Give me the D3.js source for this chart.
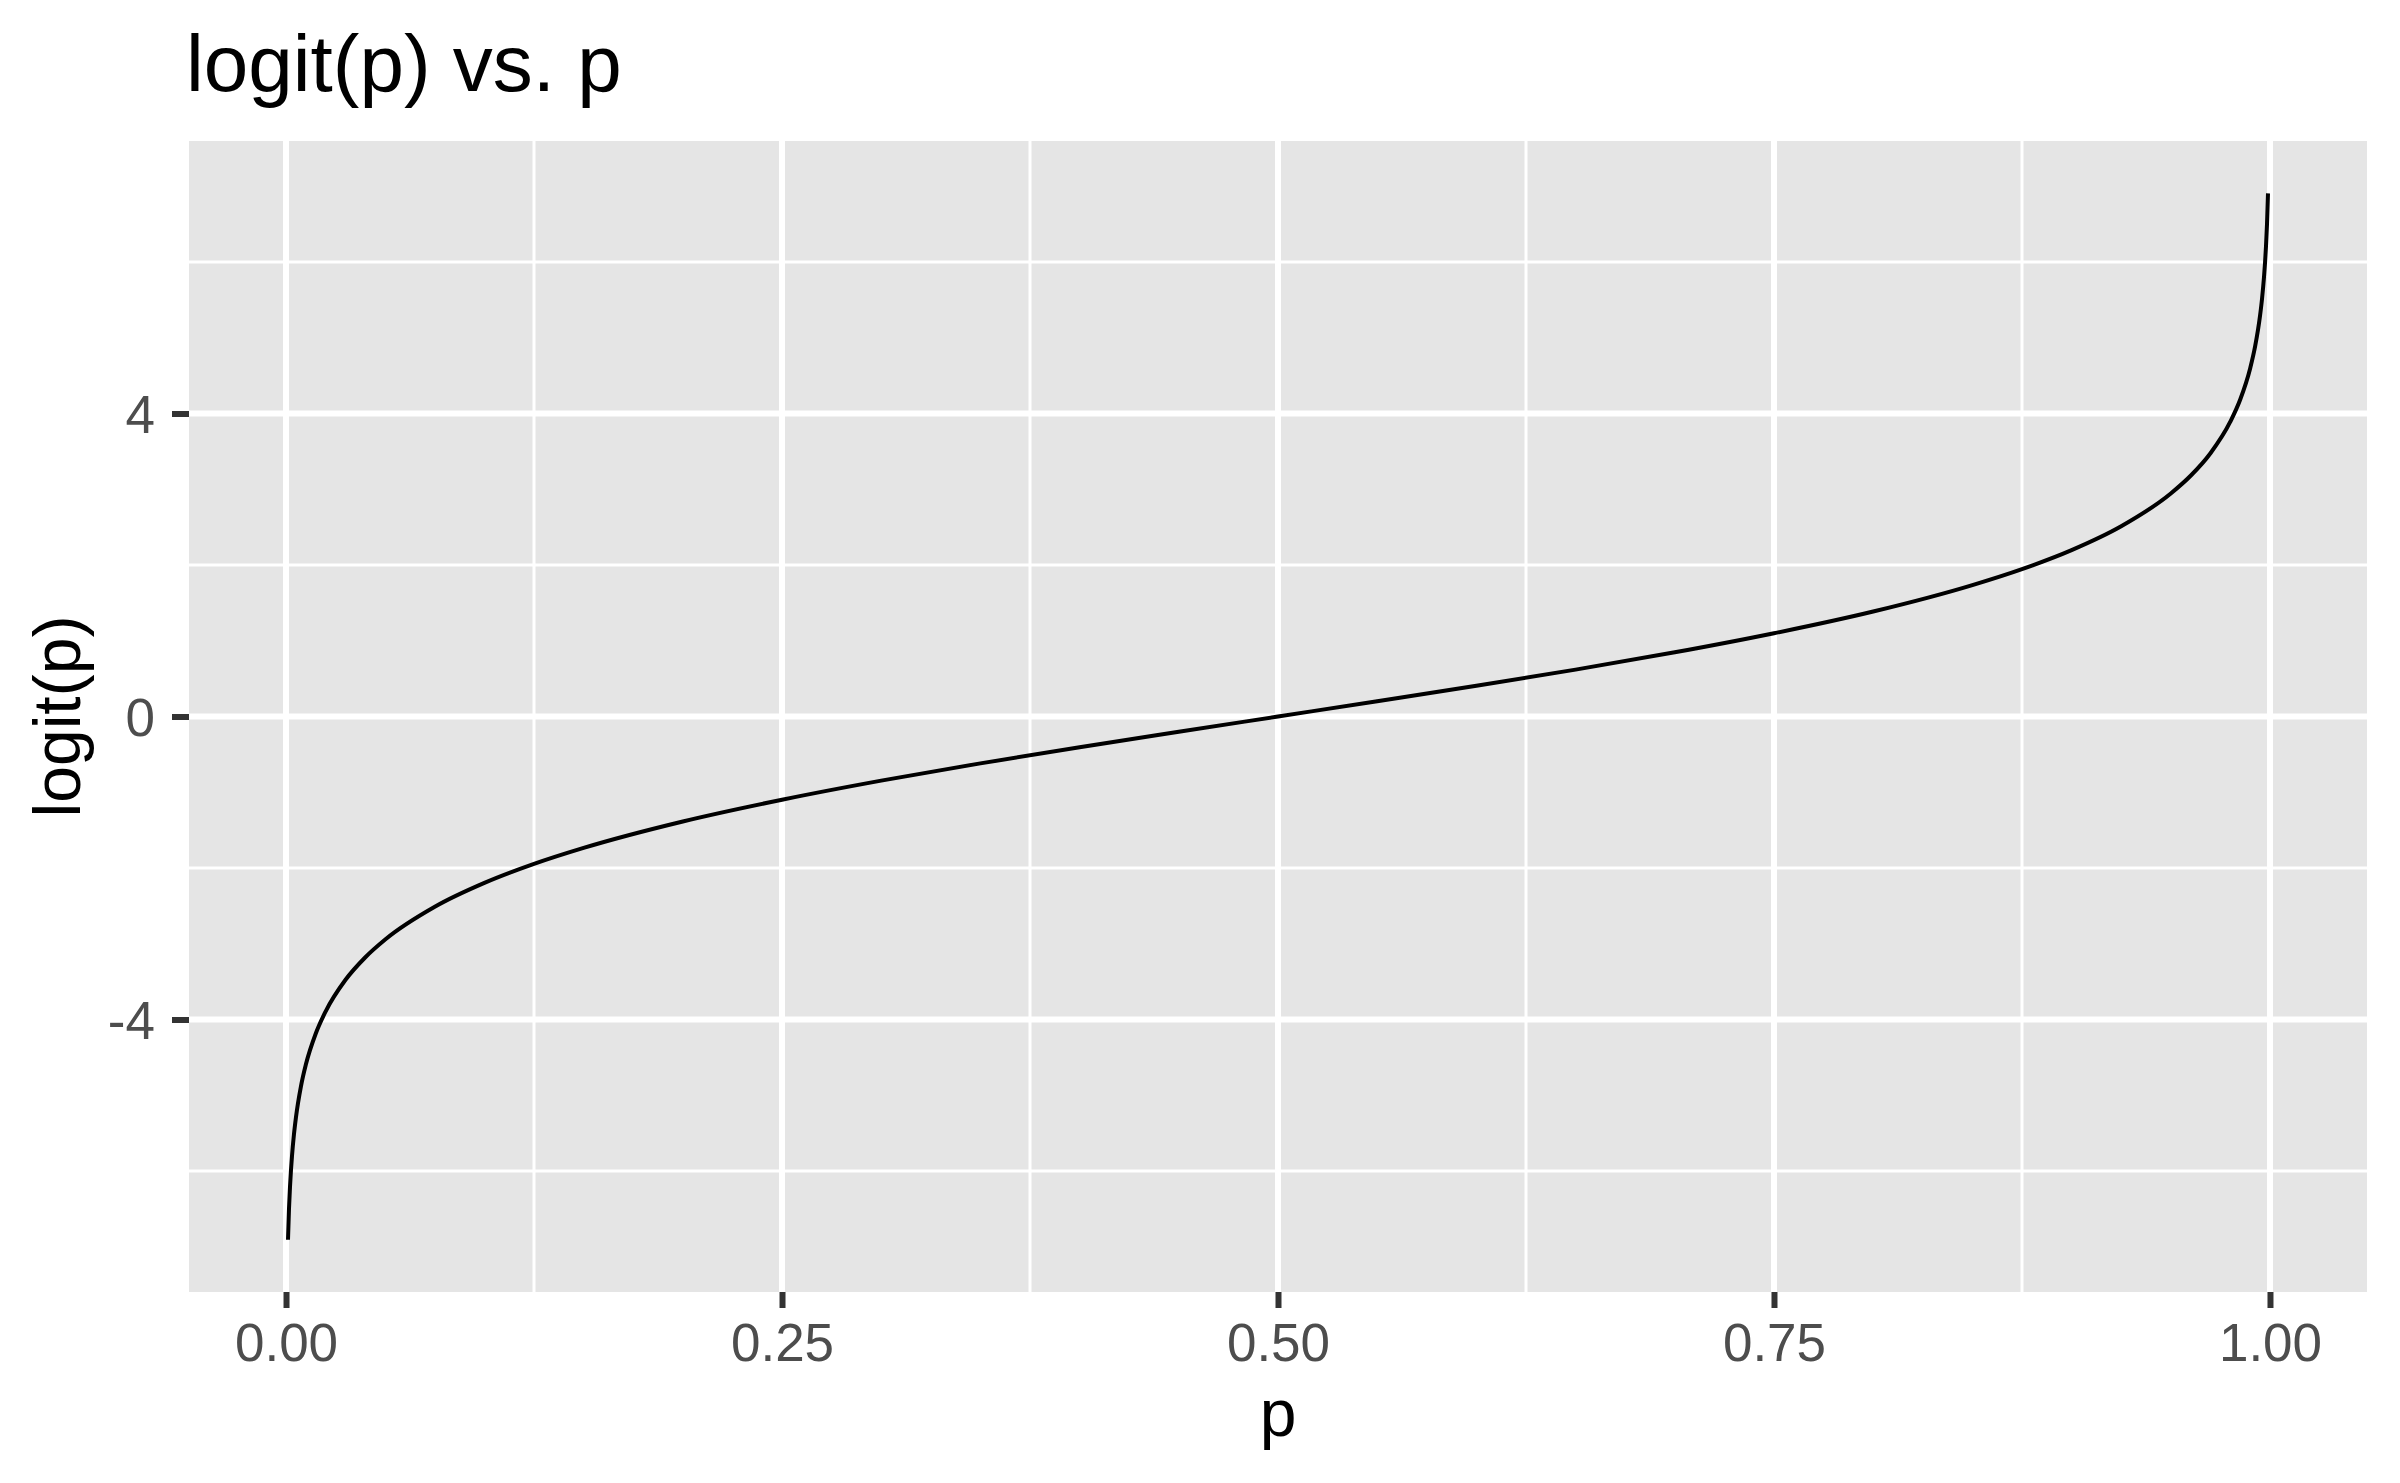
<!DOCTYPE html>
<html>
<head>
<meta charset="utf-8">
<script src="https://cdn.jsdelivr.net/npm/d3@7"></script>
<style>
  html, body { margin: 0; padding: 0; background: #ffffff; }
  svg { display: block; }
</style>
</head>
<body>
<script>
// ---- data ----
const pValues = [0.001, 0.0015, 0.002, 0.0025, 0.003, 0.004, 0.005, 0.0075, 0.01, 0.015, 0.02, 0.03, 0.04, 0.05, 0.075, 0.1, 0.125, 0.15, 0.2, 0.25, 0.3, 0.35, 0.4, 0.45, 0.5,
                 0.55, 0.6, 0.65, 0.7, 0.75, 0.8, 0.85, 0.875, 0.9, 0.925, 0.95, 0.96, 0.97, 0.98, 0.985, 0.99, 0.9925, 0.995, 0.996, 0.997, 0.9975, 0.998, 0.9985, 0.999];
const logitValues = [-6.907, -6.501, -6.213, -5.989, -5.806, -5.517, -5.293, -4.885, -4.595, -4.185, -3.892, -3.476, -3.178, -2.944, -2.512, -2.197, -1.946, -1.735, -1.386, -1.099, -0.847, -0.619, -0.405, -0.201, 0,
                     0.201, 0.405, 0.619, 0.847, 1.099, 1.386, 1.735, 1.946, 2.197, 2.512, 2.944, 3.178, 3.476, 3.892, 4.185, 4.595, 4.885, 5.293, 5.517, 5.806, 5.989, 6.213, 6.501, 6.907];
const xTicks = [0, 0.25, 0.5, 0.75, 1];
const xTickLabels = ["0.00", "0.25", "0.50", "0.75", "1.00"];
const yTicks = [-4, 0, 4];
const yTickLabels = ["-4", "0", "4"];
const xMinor = [0.125, 0.375, 0.625, 0.875];
const yMinor = [-6, -2, 2, 6];
const titleText = "logit(p) vs. p";
const xTitle = "p";
const yTitle = "logit(p)";

// ---- layout ----
const W = 2400, H = 1483;
const panel = { left: 189, top: 141, right: 2367, bottom: 1292 };
const font = "'Liberation Sans', Arial, Helvetica, sans-serif";

const svg = d3.select("body").append("svg").attr("width", W).attr("height", H);

const xMin = d3.min(pValues), xMax = d3.max(pValues);
const xPad = (xMax - xMin) * 0.05;
const yMin = d3.min(logitValues), yMax = d3.max(logitValues);
const yPad = (yMax - yMin) * 0.05;

const x = d3.scaleLinear().domain([xMin - xPad, xMax + xPad]).range([panel.left, panel.right]);
const y = d3.scaleLinear().domain([yMin - yPad, yMax + yPad]).range([panel.bottom, panel.top]);

// panel background
svg.append("rect")
  .attr("x", panel.left).attr("y", panel.top)
  .attr("width", panel.right - panel.left).attr("height", panel.bottom - panel.top)
  .attr("fill", "#E5E5E5");

const grid = svg.append("g");
// minor grid
grid.selectAll("line.xminor").data(xMinor).enter().append("line")
  .attr("x1", d => x(d)).attr("x2", d => x(d))
  .attr("y1", panel.top).attr("y2", panel.bottom)
  .attr("stroke", "#ffffff").attr("stroke-width", 3);
grid.selectAll("line.yminor").data(yMinor).enter().append("line")
  .attr("x1", panel.left).attr("x2", panel.right)
  .attr("y1", d => y(d)).attr("y2", d => y(d))
  .attr("stroke", "#ffffff").attr("stroke-width", 3);
// major grid
grid.selectAll("line.xmajor").data(xTicks).enter().append("line")
  .attr("x1", d => x(d)).attr("x2", d => x(d))
  .attr("y1", panel.top).attr("y2", panel.bottom)
  .attr("stroke", "#ffffff").attr("stroke-width", 6);
grid.selectAll("line.ymajor").data(yTicks).enter().append("line")
  .attr("x1", panel.left).attr("x2", panel.right)
  .attr("y1", d => y(d)).attr("y2", d => y(d))
  .attr("stroke", "#ffffff").attr("stroke-width", 6);

// curve
const pts = pValues.map((p, i) => [p, logitValues[i]]);
const line = d3.line().x(d => x(d[0])).y(d => y(d[1])).curve(d3.curveMonotoneX);
svg.append("path").datum(pts)
  .attr("d", line)
  .attr("fill", "none")
  .attr("stroke", "#000000")
  .attr("stroke-width", 4)
  .attr("stroke-linejoin", "round");

// x axis
const xAxis = d3.axisBottom(x).tickValues(xTicks)
  .tickFormat((d, i) => xTickLabels[i])
  .tickSizeInner(16).tickSizeOuter(0).tickPadding(12);
const gx = svg.append("g").attr("transform", `translate(0,${panel.bottom})`).call(xAxis);
gx.select(".domain").remove();
gx.selectAll(".tick line").attr("stroke", "#333333").attr("stroke-width", 6);
gx.selectAll(".tick text").attr("fill", "#4D4D4D").attr("font-family", font).attr("font-size", 53)
  .attr("dy", null).attr("y", 69);

// y axis
const yAxis = d3.axisLeft(y).tickValues(yTicks)
  .tickFormat((d, i) => yTickLabels[i])
  .tickSizeInner(17).tickSizeOuter(0).tickPadding(17);
const gy = svg.append("g").attr("transform", `translate(${panel.left},0)`).call(yAxis);
gy.select(".domain").remove();
gy.selectAll(".tick line").attr("stroke", "#333333").attr("stroke-width", 6);
gy.selectAll(".tick text").attr("fill", "#4D4D4D").attr("font-family", font).attr("font-size", 53)
  .attr("dy", "0.35em");

// title
svg.append("text").attr("x", 186).attr("y", 91)
  .attr("font-family", font).attr("font-size", 80).attr("fill", "#000000")
  .text(titleText);

// axis titles
svg.append("text").attr("x", (panel.left + panel.right) / 2).attr("y", 1436)
  .attr("text-anchor", "middle")
  .attr("font-family", font).attr("font-size", 66).attr("fill", "#000000")
  .text(xTitle);
svg.append("text")
  .attr("transform", `translate(80,${(panel.top + panel.bottom) / 2}) rotate(-90)`)
  .attr("text-anchor", "middle")
  .attr("font-family", font).attr("font-size", 66).attr("fill", "#000000")
  .text(yTitle);
</script>
</body>
</html>
